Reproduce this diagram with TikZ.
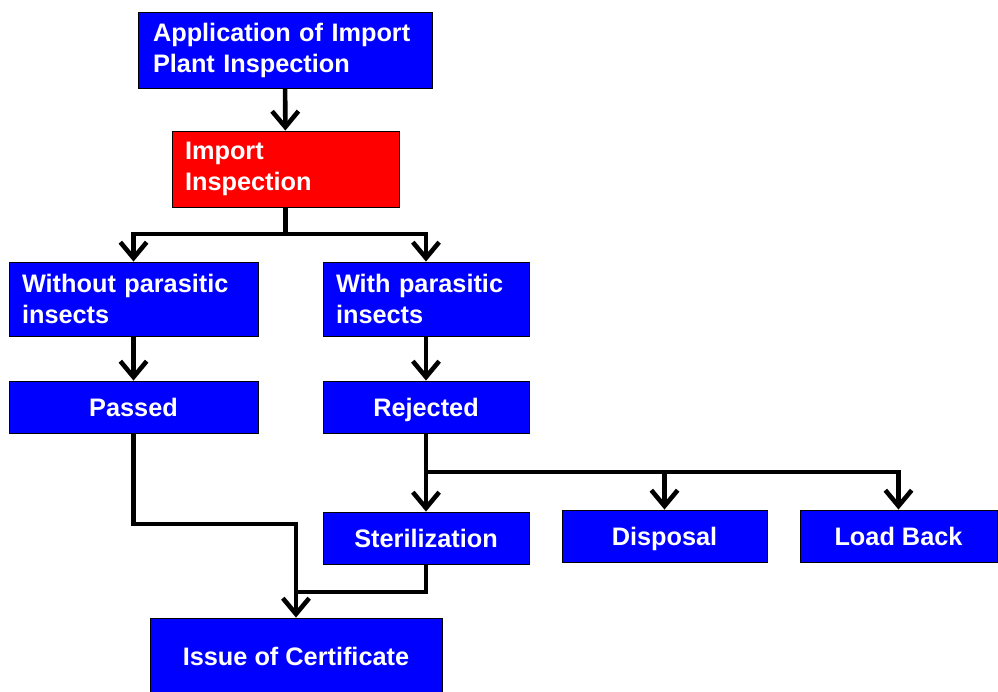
\documentclass[tikz,border=0pt]{standalone}
\usepackage{fontspec}
\setmainfont{Liberation Sans}
\usetikzlibrary{arrows.meta}

\tikzset{
  basebox/.style={draw=black,line width=0.5pt,fill=blue,text=white,font=\bfseries\fontsize{14.4}{17.6}\selectfont,inner sep=0pt},
  box/.style={basebox,minimum height=1.04cm,text height=12pt,text depth=1.5pt,align=center},
  leftbox/.style={basebox,minimum height=1.52cm,align=left},
  arr/.style={line width=2.6pt,-{Straight Barb[length=9pt,width=15pt]}},
  plain/.style={line width=2.6pt}
}

\begin{document}
\begin{tikzpicture}[x=0.02cm,y=-0.02cm]
\useasboundingbox (0,0) rectangle (998,691);

\node[leftbox,minimum width=5.88cm,text width=5.28cm] (app) at (285,50) {Application of Import\\Plant Inspection};
\node[leftbox,fill=red,minimum width=4.54cm,text width=4.02cm] (imp) at (285.5,169) {Import\\Inspection};
\node[leftbox,minimum width=4.98cm,minimum height=1.48cm,text width=4.46cm] (without) at (133.5,299) {Without parasitic\\insects};
\node[leftbox,minimum width=4.12cm,minimum height=1.48cm,text width=3.6cm] (with) at (426,299) {With parasitic\\insects};
\node[box,minimum width=4.98cm] (passed) at (133.5,407) {Passed};
\node[box,minimum width=4.12cm] (rejected) at (426,407) {Rejected};
\node[box,minimum width=4.12cm] (steril) at (426,538) {Sterilization};
\node[box,minimum width=4.1cm] (disposal) at (664.5,536) {Disposal};
\node[box,minimum width=3.94cm] (loadback) at (898.5,536) {Load Back};
\node[box,minimum width=5.84cm,minimum height=1.52cm] (issue) at (296,656) {Issue of Certificate};

\coordinate (split1) at (285.5,234);
\coordinate (split2) at (426,472);
\coordinate (joinp) at (296,524);
\coordinate (joins) at (296,592);

\draw[arr] (app) -- (imp);
\draw[plain] (imp) -- (split1);
\draw[arr] (split1) -| (without);
\draw[arr] (split1) -| (with);
\draw[arr] (without) -- (passed);
\draw[arr] (with) -- (rejected);
\draw[arr] (rejected) -- (steril);
\draw[arr] (split2) -| (disposal);
\draw[arr] (split2) -| (loadback);
\draw[arr] (passed) |- (joinp) -- (issue);
\draw[plain] (steril) |- (joins);

\end{tikzpicture}
\end{document}
